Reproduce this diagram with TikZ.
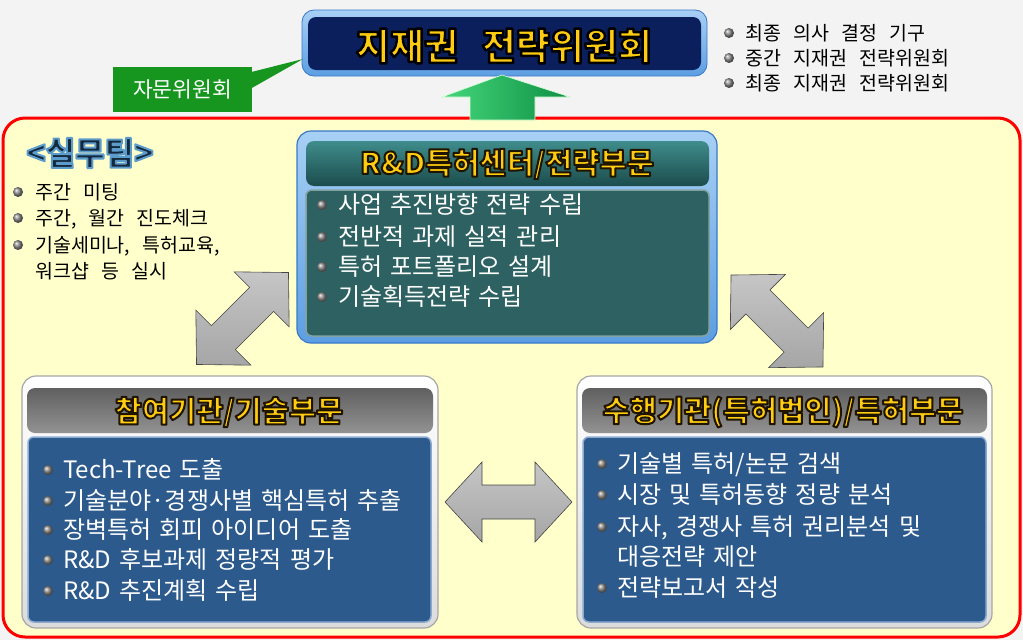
\documentclass[tikz,border=0pt]{standalone}
\usepackage{fontspec}
\setmainfont{Noto Sans CJK KR}[WordSpace=1.5]
\newfontfamily\krwide{Noto Sans CJK KR}[WordSpace=2.8]
\definecolor{bg}{HTML}{F3F3F3}
\definecolor{frame}{HTML}{FF0000}
\definecolor{paper}{HTML}{FFFFCC}
\definecolor{navy}{HTML}{0B1F5C}
\definecolor{navyedge}{HTML}{3A78C8}
\definecolor{gold}{HTML}{FFCC11}
\definecolor{callout}{HTML}{16961E}
\definecolor{tealbody}{HTML}{2E6262}
\definecolor{tealtop}{HTML}{3F8C8C}
\definecolor{tealbot}{HTML}{1C4C4C}
\definecolor{cframe}{HTML}{5C9EE2}
\definecolor{cframelt}{HTML}{A8D0F5}
\definecolor{bluebody}{HTML}{2C5A8C}
\definecolor{bluerim}{HTML}{8AAAD0}
\definecolor{grayframe}{HTML}{DCDCDC}
\definecolor{teamtxt}{HTML}{15293D}
\definecolor{garrowlt}{HTML}{45D77A}
\definecolor{garrowdk}{HTML}{0E8F45}
% outlined text: #1 stroke width, #2 stroke rgb, #3 fill colour, #4 text
\newcommand\outl[4]{{\color{#3}\special{pdf:code 2 Tr #1 w 1 j #2 RG}#4\special{pdf:code 0 Tr}}}
\newcommand\litem[6]{%
  \shade[ball color=gray!90] (#2,#4) circle (5pt);
  \node[#5] (#1) at (#3,#4) {#6};}
\newcommand\dblarrow[6]{% cx cy angle halflength headlength headhalf
  \begin{scope}[shift={(#1,#2)}, rotate=#3]
  \shade[top color=gray!45, middle color=gray!22, bottom color=gray!70, draw=gray!55!black, line width=0.6pt]
    (-#4,0) -- (-#4+#5,-#6) -- (-#4+#5,-17) -- (#4-#5,-17) -- (#4-#5,-#6) -- (#4,0)
    -- (#4-#5,#6) -- (#4-#5,17) -- (-#4+#5,17) -- (-#4+#5,#6) -- cycle;
  \end{scope}}
\tikzset{
  ctxt/.style={anchor=west, inner sep=0pt, text=white, font=\fontsize{24}{24}\selectfont, text height=19.2pt, text depth=1.7pt},
  ytxt/.style={anchor=west, inner sep=0pt, text=black, font=\krwide\fontsize{19.5}{19.5}\selectfont, text height=15.6pt, text depth=1.4pt},
  htxt/.style={inner sep=0pt, font=\fontsize{29.5}{29.5}\selectfont\bfseries},
}
\begin{document}
\begin{tikzpicture}[x=1pt,y=-1pt]
\fill[bg] (0,0) rectangle (1023,640);
\useasboundingbox (0,0) rectangle (1023,640);
% working-team frame
\draw[frame, line width=3pt, fill=paper, rounded corners=22pt] (3,118) rectangle (1020,637);
% title box
\draw[draw=navyedge, line width=0.8pt, top color=cframelt, bottom color=cframe, rounded corners=12pt] (302,10) rectangle (707,76);
\fill[navy, rounded corners=8pt] (308,17) rectangle (701,70);
\node[inner sep=0pt, font=\krwide\fontsize{37}{37}\selectfont\bfseries] (title) at (504,46) {\outl{2.4}{0 0 0}{gold}{지재권 전략위원회}};
% callout
\node[fill=callout, minimum width=139pt, minimum height=45pt, inner sep=0pt, text=white, font=\fontsize{21.5}{21.5}\selectfont] (advice) at (182.5,89.5) {자문위원회};
\coordinate (ptip) at (303,59);
\fill[callout] ([yshift=-5pt]advice.north east) -- (ptip) -- ([yshift=-21pt]advice.north east) -- cycle;
% green up arrow
\shade[left color=garrowlt, right color=garrowdk, draw=white!85!green, line width=0.6pt]
  (502,75) -- (570,97) -- (535,97) -- (535,120) -- (470,120) -- (470,97) -- (442,97) -- cycle;
% top-right list
\litem{d1}{729}{745}{33}{ytxt}{최종 의사 결정 기구}
\litem{d2}{729}{745}{58}{ytxt}{중간 지재권 전략위원회}
\litem{d3}{729}{745}{83}{ytxt}{최종 지재권 전략위원회}
% team label and list
\node[inner sep=0pt, font=\fontsize{32}{32}\selectfont\bfseries] (team) at (90,153) {\outl{2}{0.36 0.61 0.8}{teamtxt}{<실무팀>}};
\litem{t1}{18}{35}{192}{ytxt}{주간 미팅}
\litem{t2}{18}{35}{218}{ytxt}{주간, 월간 진도체크}
\litem{t3}{18}{35}{245}{ytxt}{기술세미나, 특허교육,}
\node[ytxt] (t4) at (35,271) {워크샵 등 실시};
% center box
\draw[draw=navyedge, line width=1.2pt, top color=cframelt, bottom color=cframe, rounded corners=14pt] (297,131) rectangle (717,343);
\shade[top color=tealtop, bottom color=tealbot, rounded corners=8pt] (306,141) rectangle (709,186);
\draw[fill=tealbody, draw=tealbody!60!white, line width=1.5pt, rounded corners=6pt] (306,190) rectangle (709,336);
\node[htxt] (ctitle) at (507,164) {\outl{2}{0.12 0.08 0}{gold}{R\&D특허센터/전략부문}};
\litem{c1}{322}{338}{205}{ctxt}{사업 추진방향 전략 수립}
\litem{c2}{322}{338}{237}{ctxt}{전반적 과제 실적 관리}
\litem{c3}{322}{338}{267}{ctxt}{특허 포트폴리오 설계}
\litem{c4}{322}{338}{297}{ctxt}{기술획득전략 수립}
% left box
\draw[draw=gray!70, line width=1.2pt, top color=white, bottom color=grayframe, rounded corners=14pt] (22,376) rectangle (438,628);
\shade[top color=gray!75!black, bottom color=gray!85, rounded corners=8pt] (27,388) rectangle (433,433);
\draw[fill=bluebody, draw=bluerim, line width=1.5pt, rounded corners=6pt] (28,437) rectangle (431,622);
\node[htxt] (ltitle) at (229,412) {\outl{2}{0.12 0.08 0}{gold}{참여기관/기술부문}};
\litem{l1}{48}{63}{470}{ctxt}{Tech-Tree 도출}
\litem{l2}{48}{63}{501}{ctxt}{기술분야·경쟁사별 핵심특허 추출}
\litem{l3}{48}{63}{530}{ctxt}{장벽특허 회피 아이디어 도출}
\litem{l4}{48}{63}{560}{ctxt}{R\&D 후보과제 정량적 평가}
\litem{l5}{48}{63}{591}{ctxt}{R\&D 추진계획 수립}
% right box
\draw[draw=gray!70, line width=1.2pt, top color=white, bottom color=grayframe, rounded corners=14pt] (577,376) rectangle (992,628);
\shade[top color=gray!75!black, bottom color=gray!85, rounded corners=8pt] (582,388) rectangle (987,433);
\draw[fill=bluebody, draw=bluerim, line width=1.5pt, rounded corners=6pt] (583,437) rectangle (986,622);
\node[htxt] (rtitle) at (783,412) {\outl{2}{0.12 0.08 0}{gold}{수행기관(특허법인)/특허부문}};
\litem{r1}{602}{617}{464}{ctxt}{기술별 특허/논문 검색}
\litem{r2}{602}{617}{495}{ctxt}{시장 및 특허동향 정량 분석}
\litem{r3}{602}{617}{527}{ctxt}{자사, 경쟁사 특허 권리분석 및}
\node[ctxt] (r3b) at (617,557) {대응전략 제안};
\litem{r5}{602}{617}{588}{ctxt}{전략보고서 작성}
% grey double arrows
\dblarrow{242.5}{318.5}{45}{65}{38}{39}
\dblarrow{777}{321}{-45}{65}{38}{39}
\dblarrow{508.5}{502}{0}{63.5}{37}{40}
\end{tikzpicture}
\end{document}
